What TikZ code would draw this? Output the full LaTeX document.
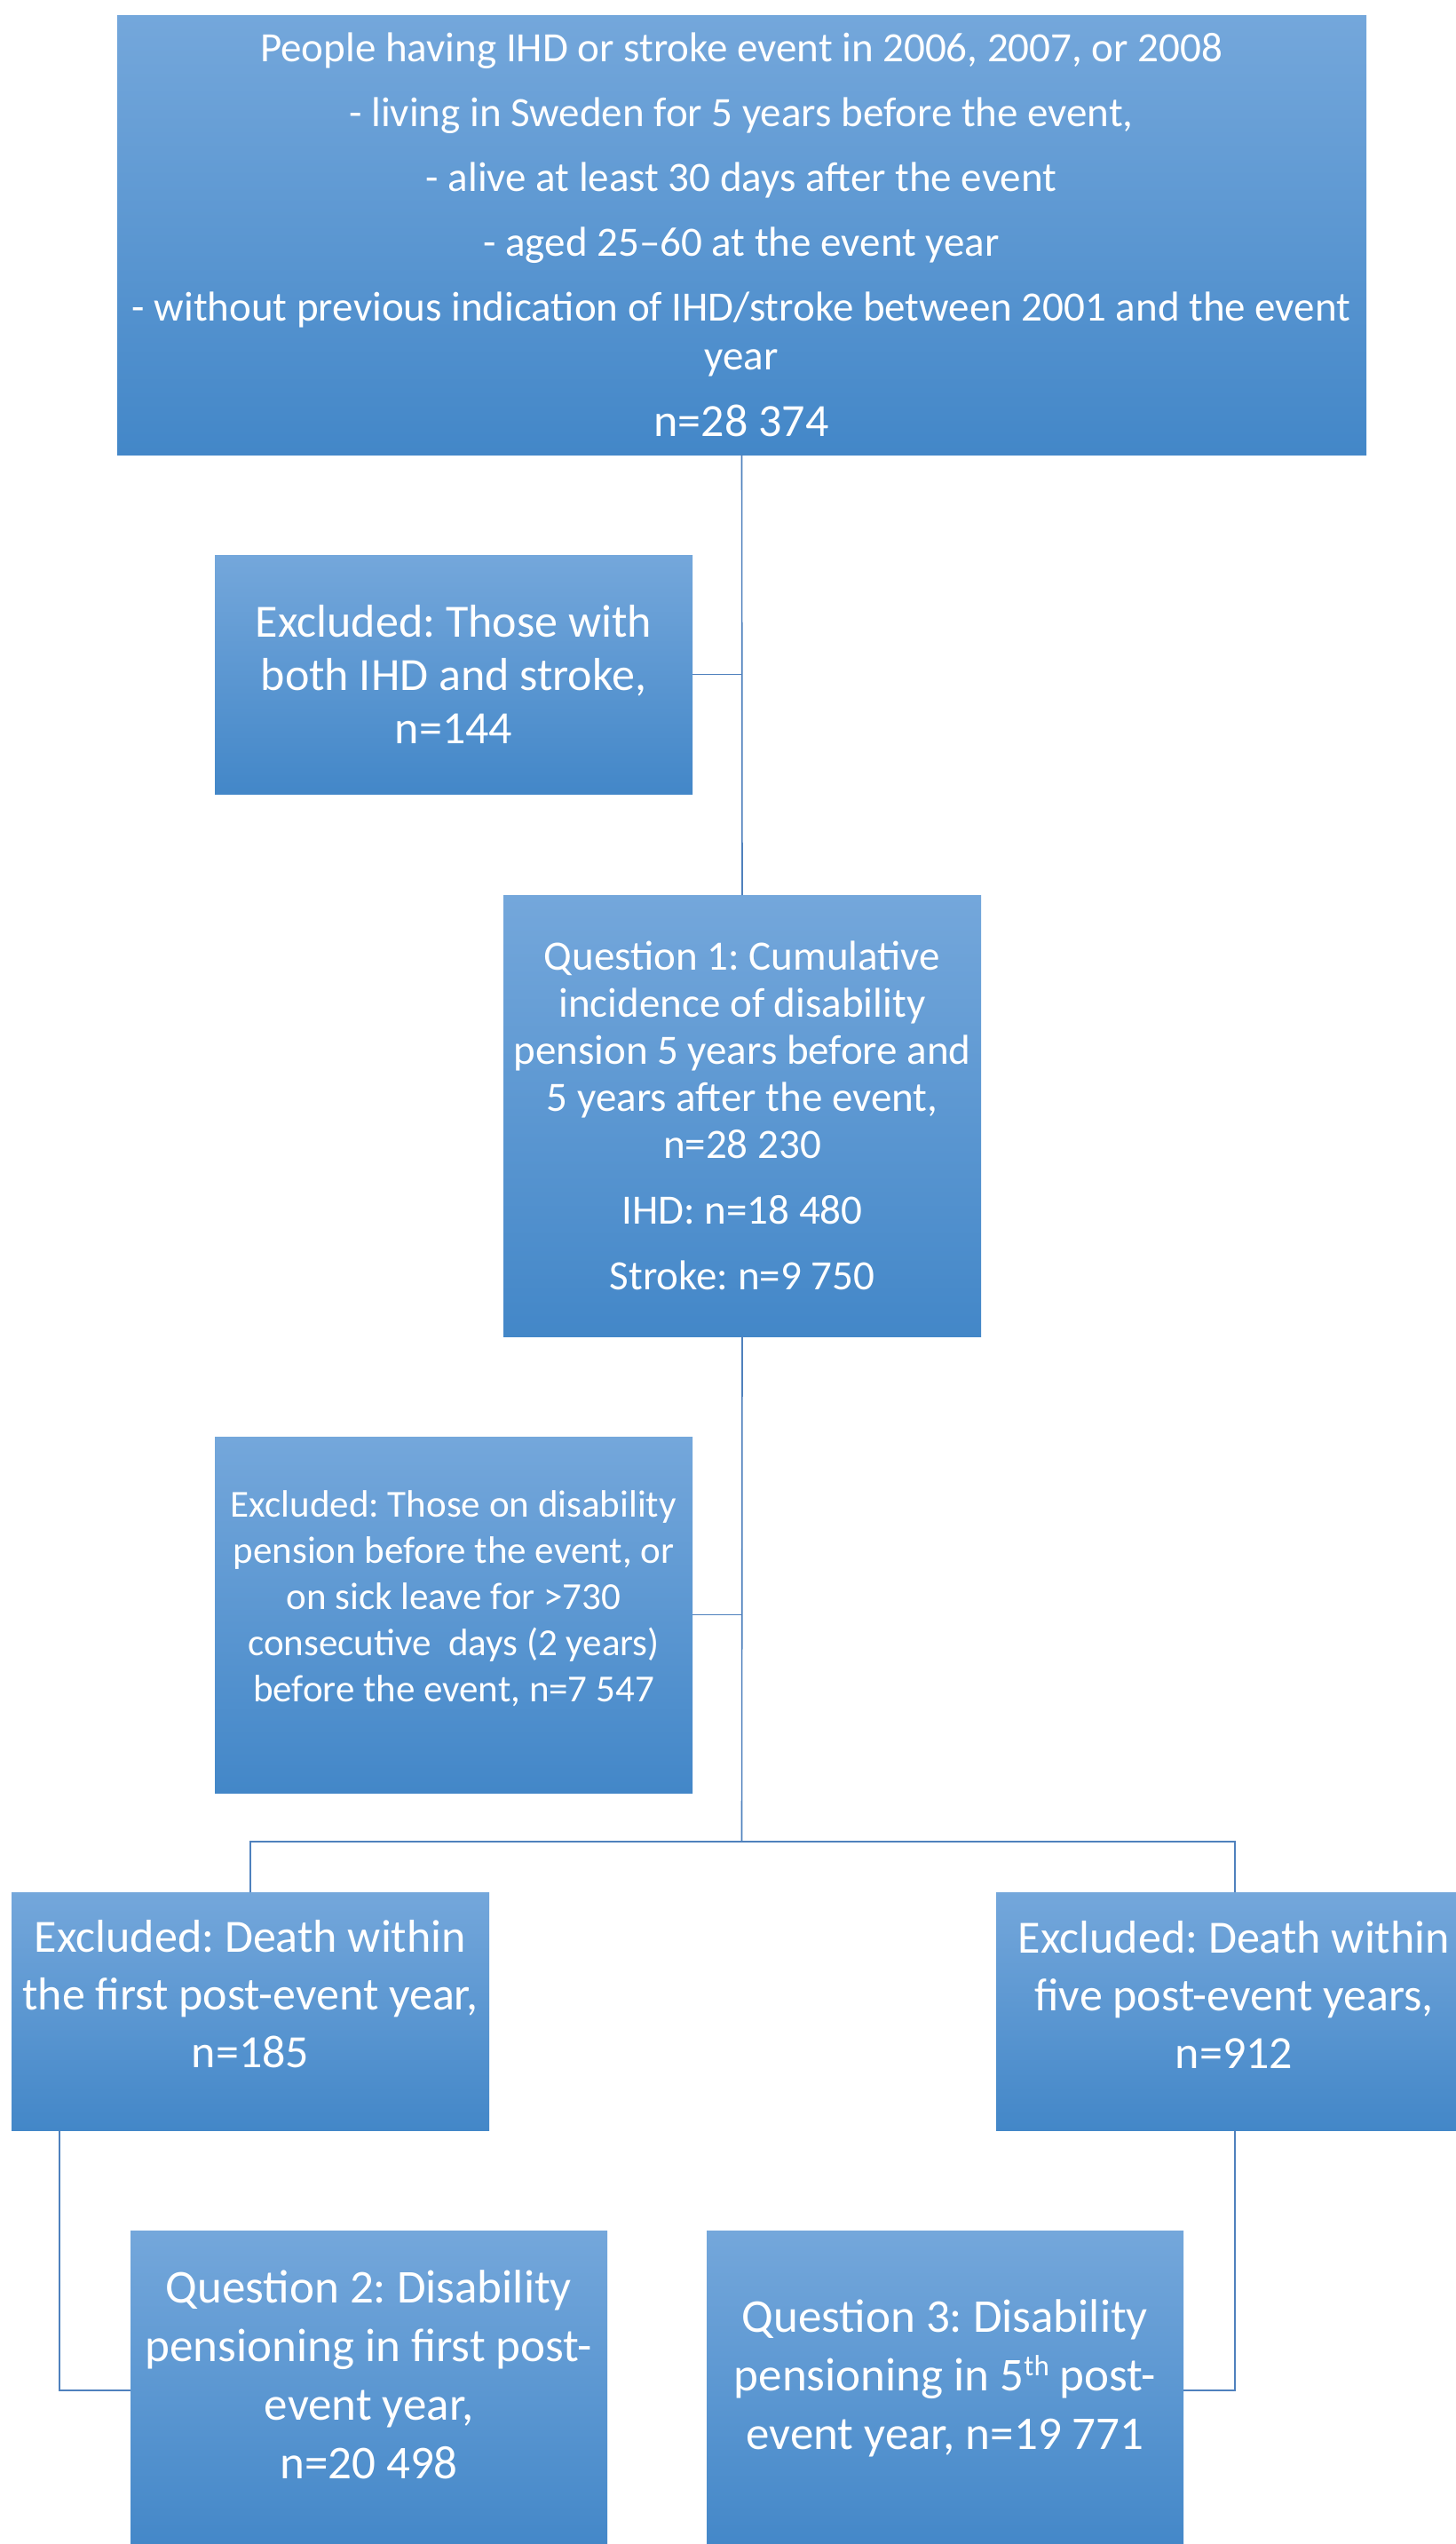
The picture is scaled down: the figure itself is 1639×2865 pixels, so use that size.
\documentclass[tikz,border=0pt]{standalone}
\usepackage{fontspec}
\setmainfont{Carlito}
\frenchspacing
\definecolor{gtop}{RGB}{116,167,219}
\definecolor{gmid}{RGB}{84,153,218}
\definecolor{gbot}{RGB}{67,135,200}
\definecolor{conn}{RGB}{79,129,189}
\begin{document}
\begin{tikzpicture}[x=1pt,y=-1pt,
  box/.style={draw=none, inner sep=0pt, outer sep=0pt, anchor=north west,
    top color=gtop, middle color=gmid, bottom color=gbot},
  txt/.style={text=white, align=center, inner sep=0pt},
  conn/.style={draw=conn, line width=1.6pt}]
\useasboundingbox (0,0) rectangle (1639,2865);
% boxes
\node[box, minimum width=1407pt, minimum height=495pt] (top) at (132,17) {};
\node[box, minimum width=538pt, minimum height=269pt] (ex1) at (242,625) {};
\node[box, minimum width=538pt, minimum height=497pt] (q1) at (567,1008) {};
\node[box, minimum width=538pt, minimum height=401pt] (ex2) at (242,1618) {};
\node[box, minimum width=538pt, minimum height=268pt] (exL) at (13,2131) {};
\node[box, minimum width=538pt, minimum height=268pt] (exR) at (1122,2131) {};
\node[box, minimum width=537pt, minimum height=360pt] (q2) at (147,2512) {};
\node[box, minimum width=537pt, minimum height=360pt] (q3) at (796,2512) {};
% connectors
\coordinate (busM) at (835.5,2074);
\draw[conn] (top.south) -- (q1.north);
\draw[conn] (q1.south) -- (busM);
\draw[conn] (ex1.east) -- (ex1.east -| top.south);
\draw[conn] (ex2.east) -- (ex2.east -| top.south);
\draw[conn] (exL.north) -- (exL.north |- busM) -- (exR.north |- busM) -- (exR.north);
\draw[conn] ([xshift=54pt]exL.south west) |- (q2.west);
\draw[conn] (exR.south) |- (q3.east);
% texts
\node[txt, font=\fontsize{47}{55}\selectfont] (topt) at (835,264) {%
People having IHD or stroke event in 2006, 2007, or 2008\\[18pt]
- living in Sweden for 5 years before the event,\\[18pt]
- alive at least 30 days after the event\\[18pt]
- aged 25--60 at the event year\\[18pt]
- without previous indication of IHD/stroke between 2001 and the event\\
year\\[20pt]
{\fontsize{52}{55}\selectfont n=28 374}};
\node[txt, font=\fontsize{52}{60}\selectfont] (ex1t) at (511,759) {%
Excluded: Those with\\both IHD and stroke,\\n=144};
\node[txt, font=\fontsize{47}{53}\selectfont] (q1t) at (836,1256) {%
Question 1: Cumulative\\incidence of disability\\pension 5 years before and\\
5 years after the event,\\n=28 230\\[21pt]
IHD: n=18 480\\[21pt]
Stroke: n=9 750};
\node[txt, font=\fontsize{43}{52}\selectfont] (ex2t) at (511,1800) {%
Excluded: Those on disability\\pension before the event, or\\on sick leave for >730\\
consecutive~ days (2 years)\\before the event, n=7 547};
\node[txt, font=\fontsize{52}{65}\selectfont] (exLt) at (282,2246) {%
Excluded: Death within\\the first post-event year,\\n=185};
\node[txt, font=\fontsize{52}{65}\selectfont] (exRt) at (1390,2246) {%
Excluded: Death within\\five post-event years,\\n=912};
\node[txt, font=\fontsize{53}{66}\selectfont] (q2t) at (415.5,2674) {%
Question 2: Disability\\pensioning in first post-\\event year,\\n=20 498};
\node[txt, font=\fontsize{53}{66}\selectfont] (q3t) at (1064.5,2678) {%
Question 3: Disability\\pensioning in 5\raisebox{17pt}{\fontsize{33}{33}\selectfont th} post-\\event year, n=19 771};
\end{tikzpicture}
\end{document}
